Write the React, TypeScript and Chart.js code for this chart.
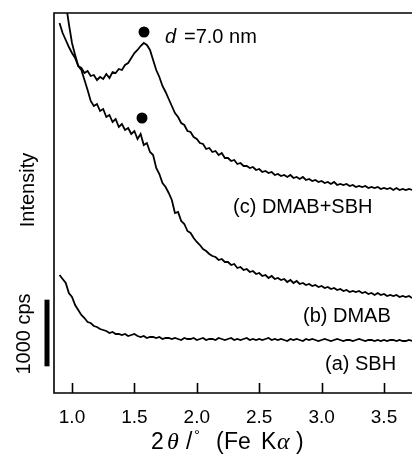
import React, { useEffect, useRef } from "react";
import { Chart, registerables } from "chart.js";

Chart.register(...registerables);

// 2θ scan grid (degrees), 0.025° step
const scanStart = 0.9;
const scanStep = 0.025;
const scanCount = 114;
const twoTheta = Array.from({ length: scanCount }, (_, i) => +(scanStart + i * scanStep).toFixed(3));

// Offset intensities (cps)
const sampleC = [
  5550, 5400, 5295, 5190, 5100, 5025, 4905, 4875, 4800, 4830,
  4755, 4770, 4695, 4740, 4710, 4785, 4725, 4815, 4800, 4860,
  4845, 4920, 4950, 5025, 5100, 5145, 5205, 5250, 5220, 5145,
  4995, 4845, 4740, 4605, 4515, 4410, 4305, 4200, 4140, 4050,
  4020, 3930, 3915, 3840, 3810, 3750, 3735, 3660, 3675, 3615,
  3630, 3570, 3600, 3525, 3525, 3480, 3495, 3435, 3450, 3405,
  3405, 3375, 3390, 3345, 3360, 3315, 3330, 3300, 3315, 3270,
  3285, 3255, 3270, 3240, 3270, 3225, 3240, 3210, 3240, 3195,
  3210, 3180, 3195, 3165, 3180, 3150, 3165, 3135, 3165, 3120,
  3135, 3120, 3135, 3105, 3120, 3090, 3105, 3090, 3105, 3075,
  3090, 3075, 3090, 3060, 3075, 3060, 3075, 3045, 3075, 3045,
  3060, 3045, 3060, 3045,
];

const sampleB = [
  null, null, 5850, 5535, 5250, 5070, 4905, 4845, 4695, 4545,
  4380, 4305, 4335, 4230, 4260, 4140, 4170, 4065, 4110, 3990,
  4035, 3945, 3975, 3885, 3930, 3810, 3885, 3720, 3750, 3615,
  3570, 3375, 3285, 3150, 3090, 3000, 2895, 2700, 2715, 2580,
  2535, 2430, 2400, 2325, 2265, 2220, 2160, 2130, 2085, 2055,
  2040, 1995, 2010, 1965, 1965, 1920, 1935, 1875, 1890, 1845,
  1860, 1815, 1830, 1785, 1800, 1755, 1770, 1725, 1755, 1710,
  1725, 1695, 1710, 1665, 1695, 1650, 1680, 1635, 1650, 1620,
  1635, 1605, 1620, 1590, 1605, 1575, 1590, 1560, 1575, 1545,
  1560, 1530, 1545, 1515, 1530, 1515, 1530, 1500, 1515, 1485,
  1500, 1470, 1500, 1470, 1485, 1455, 1470, 1455, 1470, 1440,
  1455, 1440, 1455, 1425,
];

const sampleA = [
  1770, 1710, 1650, 1500, 1440, 1320, 1245, 1170, 1125, 1065,
  1050, 1005, 990, 960, 945, 930, 900, 915, 885, 885,
  870, 885, 855, 870, 885, 855, 840, 855, 825, 840,
  840, 825, 840, 810, 825, 825, 810, 825, 810, 795,
  825, 810, 810, 825, 795, 810, 825, 795, 810, 810,
  795, 825, 810, 795, 810, 825, 795, 810, 795, 810,
  825, 795, 810, 795, 810, 795, 810, 825, 795, 810,
  795, 810, 795, 780, 810, 795, 810, 795, 780, 810,
  795, 810, 795, 780, 795, 810, 795, 780, 795, 810,
  795, 780, 795, 795, 780, 795, 810, 795, 780, 795,
  795, 780, 795, 780, 795, 780, 795, 795, 780, 795,
  780, 780, 795, 780,
];

// Peak markers (2θ, cps)
const peakX = [1.577, 1.561];
const peakY = [5415, 4125];

// Axis ticks
const tickValues = [1.0, 1.5, 2.0, 2.5, 3.0, 3.5];
const tickLabels = ["1.0", "1.5", "2.0", "2.5", "3.0", "3.5"];

// Scale bar (cps)
const scaleBarBase = 400;
const scaleBarCps = 1000;

const SANS = '"Liberation Sans", Arial, Helvetica, sans-serif';
const SERIF = '"Liberation Serif", "DejaVu Serif", serif';

function toPoints(vals: (number | null)[]) {
  const pts: { x: number; y: number }[] = [];
  vals.forEach((v, i) => {
    if (v !== null) pts.push({ x: twoTheta[i], y: v });
  });
  return pts;
}

const areaPlugin = {
  id: "fullWidthArea",
  afterLayout(chart: any) {
    const ca = chart.chartArea;
    const x = chart.scales.x;
    ca.left = 54;
    ca.right = chart.width;
    ca.width = ca.right - ca.left;
    x.left = ca.left;
    x.right = ca.right;
    x.width = ca.width;
    x.configure();
    x._labelItems = null;
  },
};

const decorPlugin = {
  id: "decor",
  afterDraw(chart: any) {
    const { ctx, chartArea, scales } = chart;
    const { left, top, right, bottom } = chartArea;
    const x = scales.x;
    const y = scales.y;
    ctx.save();
    ctx.strokeStyle = "#000";
    ctx.fillStyle = "#000";
    ctx.lineWidth = 1.6;
    ctx.beginPath();
    ctx.moveTo(right + 2, top);
    ctx.lineTo(left, top);
    ctx.lineTo(left, bottom);
    ctx.lineTo(right + 2, bottom);
    ctx.stroke();
    // inward ticks
    ctx.beginPath();
    tickValues.forEach((v) => {
      const px = Math.round(x.getPixelForValue(v)) + 0.5;
      ctx.moveTo(px, bottom);
      ctx.lineTo(px, bottom - 10);
    });
    ctx.stroke();
    // scale bar
    const yt = y.getPixelForValue(scaleBarBase + scaleBarCps);
    const yb = y.getPixelForValue(scaleBarBase);
    ctx.fillRect(44.5, yt, 5, yb - yt);

    // rotated labels
    ctx.textBaseline = "middle";
    ctx.textAlign = "center";
    ctx.font = `20px ${SANS}`;
    ctx.save();
    ctx.translate(28, 190);
    ctx.rotate(-Math.PI / 2);
    ctx.fillText("Intensity", 0, 0);
    ctx.restore();
    ctx.save();
    ctx.translate(24, 334);
    ctx.rotate(-Math.PI / 2);
    ctx.fillText("1000 cps", 0, 0);
    ctx.restore();

    // annotations
    ctx.textAlign = "left";
    ctx.font = `italic 20px ${SANS}`;
    ctx.fillText("d", 165, 37);
    ctx.font = `20px ${SANS}`;
    ctx.fillText("=7.0 nm", 184, 37);
    ctx.fillText("(c) DMAB+SBH", 233, 207);
    ctx.fillText("(b) DMAB", 303, 316);
    ctx.fillText("(a) SBH", 325, 364);

    // x-axis title: 2θ/°  (Fe Kα)
    ctx.textBaseline = "alphabetic";
    const base = 449;
    ctx.font = `23px ${SANS}`;
    ctx.fillText("2", 151, base);
    ctx.font = `italic 24px ${SERIF}`;
    ctx.fillText("θ", 167, base);
    ctx.font = `23px ${SANS}`;
    ctx.fillText("/", 186, base);
    ctx.font = `15px ${SANS}`;
    ctx.fillText("°", 194, base - 9);
    ctx.font = `23px ${SANS}`;
    ctx.fillText("(", 216, base);
    ctx.fillText("Fe", 224, base);
    ctx.fillText("K", 261, base);
    ctx.font = `italic 24px ${SERIF}`;
    ctx.fillText("α", 277, base);
    ctx.font = `23px ${SANS}`;
    ctx.fillText(")", 296, base);
    ctx.restore();
  },
};

export default function App() {
  const canvasRef = useRef<HTMLCanvasElement | null>(null);

  useEffect(() => {
    document.body.style.margin = "0";
    const canvas = canvasRef.current;
    if (!canvas) return;
    const lineStyle = {
      borderColor: "#000",
      borderWidth: 1.8,
      pointRadius: 0,
      fill: false,
      tension: 0,
    };
    const chart = new Chart(canvas, {
      type: "line",
      data: {
        datasets: [
          { label: "(c) DMAB+SBH", data: toPoints(sampleC), ...lineStyle },
          { label: "(b) DMAB", data: toPoints(sampleB), ...lineStyle },
          { label: "(a) SBH", data: toPoints(sampleA), ...lineStyle },
          {
            label: "peak",
            data: peakX.map((px, i) => ({ x: px, y: peakY[i] })),
            showLine: false,
            pointRadius: 5.5,
            pointBackgroundColor: "#000",
            pointBorderWidth: 0,
            borderColor: "#000",
          },
        ],
      },
      options: {
        animation: false,
        responsive: false,
        devicePixelRatio: 1,
        events: [],
        layout: { padding: { left: 54, top: 13, right: 0, bottom: 0 } },
        plugins: { legend: { display: false }, tooltip: { enabled: false } },
        scales: {
          x: {
            type: "linear",
            min: 0.8558,
            max: 3.7244,
            afterFit: (s: any) => {
              s.height = 61;
              s.paddingLeft = 0;
              s.paddingRight = 0;
            },
            afterBuildTicks: (s: any) => {
              s.ticks = tickValues.map((v) => ({ value: v }));
            },
            grid: { display: false, drawTicks: false },
            border: { display: false },
            ticks: {
              autoSkip: false,
              maxRotation: 0,
              padding: 13,
              color: "#000",
              font: { family: SANS, size: 19 },
              callback: (_v: any, i: number) => tickLabels[i],
            },
          },
          y: { display: false, min: 0, max: 5700 },
        },
      },
      plugins: [areaPlugin, decorPlugin],
    } as any);
    return () => chart.destroy();
  }, []);

  return (
    <div style={{ width: 412, height: 454 }}>
      <canvas ref={canvasRef} width={412} height={454} />
    </div>
  );
}
